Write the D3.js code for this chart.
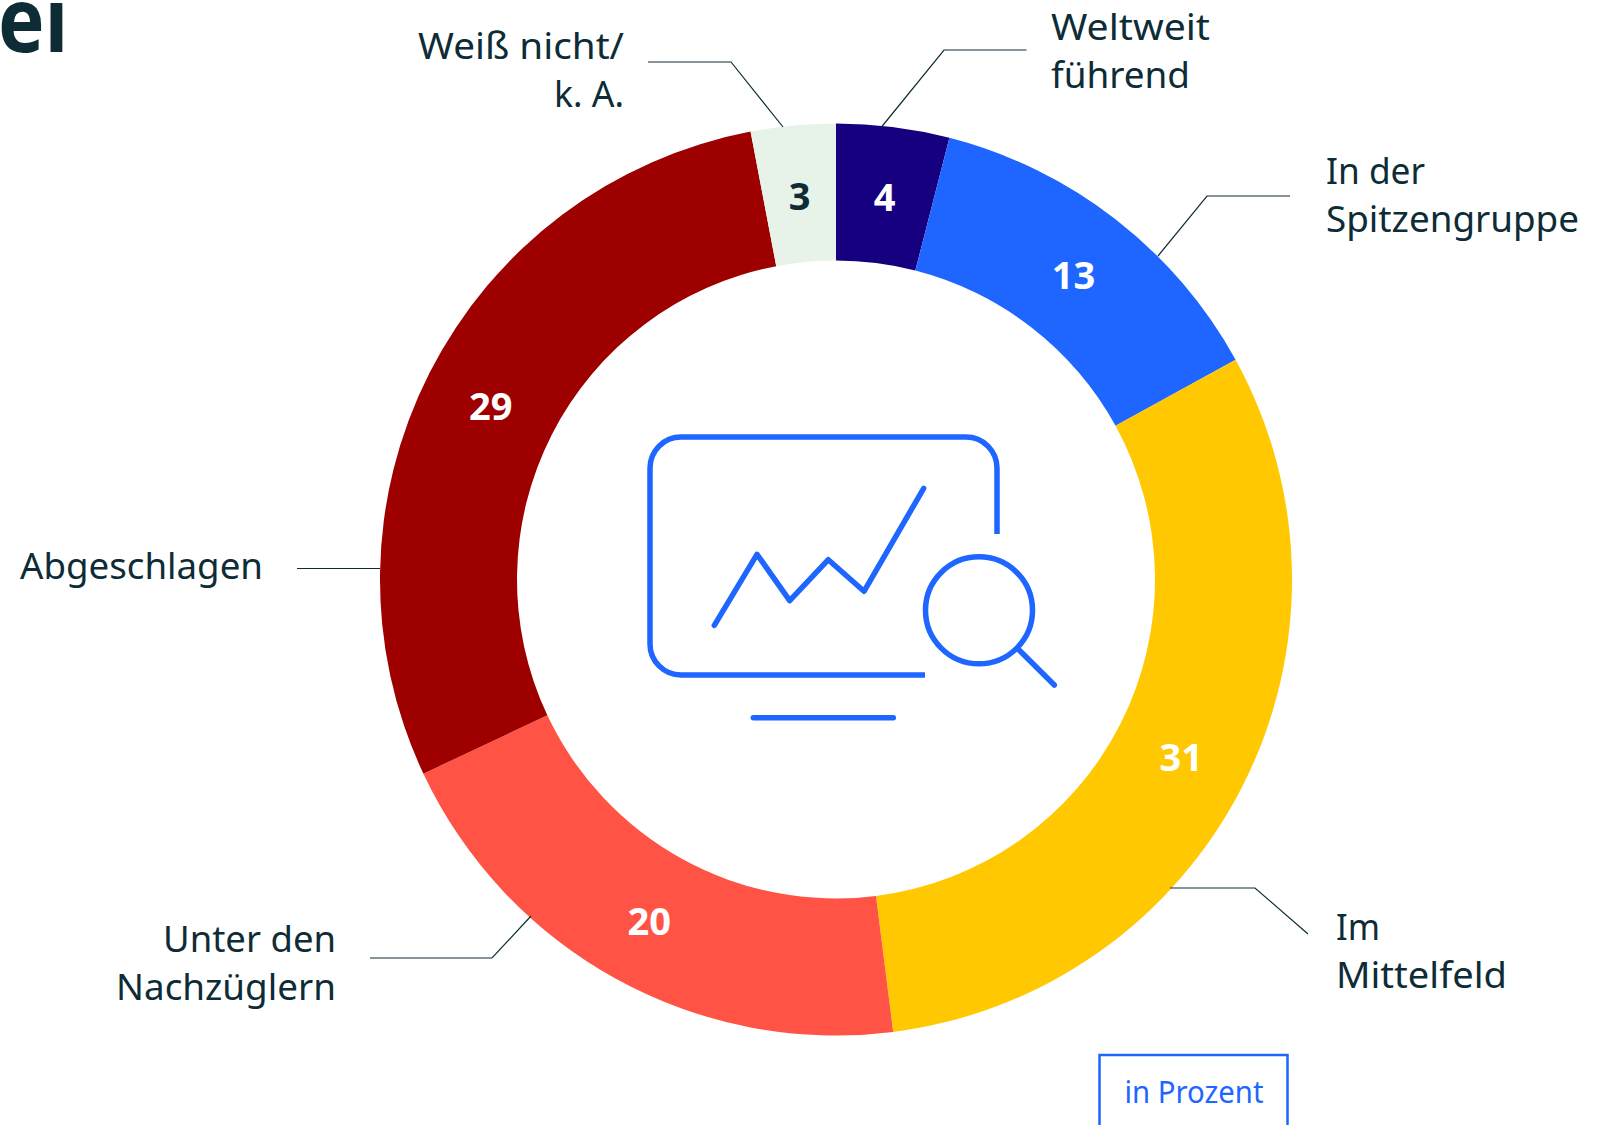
<!DOCTYPE html>
<html><head><meta charset="utf-8">
<script src="https://cdn.jsdelivr.net/npm/d3@7/dist/d3.min.js"></script>
<style>html,body{margin:0;padding:0;background:#fff}svg{display:block}text{font-family:"Noto Sans",sans-serif}</style>
</head><body><svg id="c" width="1600" height="1125"></svg>
<script>
const categories=["Weltweit führend","In der Spitzengruppe","Im Mittelfeld","Unter den Nachzüglern","Abgeschlagen","Weiß nicht/ k. A."];
const values=[4,13,31,20,29,3];
const colors=["#17007f","#1e66ff","#ffc800","#ff5445","#9e0000","#e7f3e8"];
const valueColors=["#fff","#fff","#fff","#fff","#fff","#0d2c36"];
const labelLines=[["Weltweit","führend"],["In der","Spitzengruppe"],["Im","Mittelfeld"],["Unter den","Nachzüglern"],["Abgeschlagen"],["Weiß nicht/","k. A."]];
const ink="#0d2c36", blue="#1e66ff";
const svg=d3.select("#c");
const cx=836,cy=579.5,R=456,r=319;
const pie=d3.pie().sort(null).value(d=>d)(values);
const arc=d3.arc().innerRadius(r).outerRadius(R);
const g=svg.append("g").attr("transform",`translate(${cx},${cy})`);
g.selectAll("path").data(pie).join("path").attr("d",arc).attr("fill",(d,i)=>colors[i]);
g.selectAll("text").data(pie).join("text").text(d=>d.data)
 .attr("transform",d=>`translate(${arc.centroid(d)})`).attr("text-anchor","middle").attr("dy","0.42em")
 .attr("fill",(d,i)=>valueColors[i]).attr("font-size",38).attr("font-weight",700);

// annotation layout
const leaders=[[[1026.5,50],[944,50],[881.5,127]],[[1290,196],[1207,196],[1158,256]],[[1308,934],[1255,888],[1170,888]],[[370,958],[492,958],[531,916]],[[297,568.5],[380,568.5]],[[648,62],[731,62],[783,127]]];
const labelPos=[{x:1051,y:40,a:"start",w:[159,139]},{x:1326,y:184,a:"start",w:[99,253]},{x:1336,y:940,a:"start",w:[44,171]},{x:336,y:952,a:"end",w:[173,220]},{x:20,y:579,a:"start",w:[243]},{x:624,y:59,a:"end",w:[206,70]}];
const line=d3.line();
svg.append("g").selectAll("path").data(leaders).join("path").attr("d",line).attr("fill","none").attr("stroke",ink).attr("stroke-width",1.2);
labelLines.forEach((ls,i)=>{const p=labelPos[i];
 ls.forEach((t,j)=>{svg.append("text").text(t).attr("x",p.x).attr("y",p.y+j*48).attr("text-anchor",p.a).attr("fill",ink).attr("font-size",36)
  .attr("textLength",p.w[j]).attr("lengthAdjust","spacingAndGlyphs");});});

svg.append("text").text("ei").attr("x",-2).attr("y",52).attr("fill",ink).attr("font-size",90).attr("font-weight",700).attr("textLength",70).attr("lengthAdjust","spacingAndGlyphs");

// icon
const ic=svg.append("g").attr("fill","none").attr("stroke",blue).attr("stroke-width",5.5);
ic.append("path").attr("d","M997 534V468a31 31 0 0 0-31-31H681a31 31 0 0 0-31 31V644a31 31 0 0 0 31 31H925");
ic.append("path").attr("stroke-linecap","round").attr("stroke-linejoin","round").attr("d",line([[714.3,625.3],[757,554.3],[789.7,600.7],[828.3,559.7],[864,591.3],[923.7,488.3]]));
ic.append("circle").attr("cx",979).attr("cy",610.3).attr("r",53.5);
ic.append("path").attr("stroke-linecap","round").attr("d","M1018.3 649.3L1054.3 685");
ic.append("path").attr("stroke-linecap","round").attr("d","M753.3 717.7H893.3");

svg.append("rect").attr("x",1099.5).attr("y",1055).attr("width",188).attr("height",90).attr("fill","none").attr("stroke",blue).attr("stroke-width",2.5);
svg.append("text").text("in Prozent").attr("x",1194).attr("y",1103).attr("text-anchor","middle").attr("fill",blue).attr("font-size",30).attr("textLength",139).attr("lengthAdjust","spacingAndGlyphs");
</script></body></html>
